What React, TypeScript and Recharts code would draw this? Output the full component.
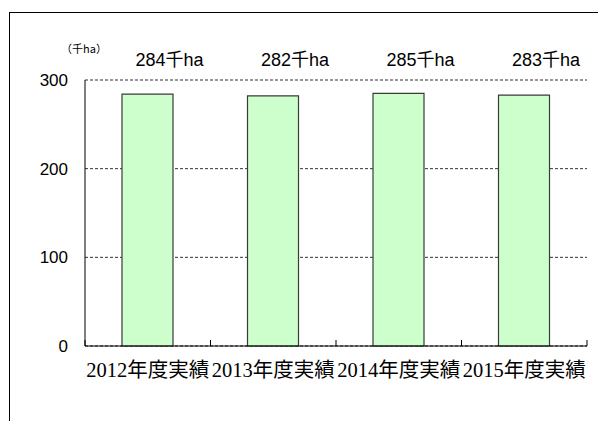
import { BarChart, Bar, XAxis, YAxis, CartesianGrid, LabelList, Label } from 'recharts';

const years = ['2012年度実績', '2013年度実績', '2014年度実績', '2015年度実績'];
const areaValues = [284, 282, 285, 283];
const valueLabels = ['284千ha', '282千ha', '285千ha', '283千ha'];
const yTicks = [0, 100, 200, 300];

const data = years.map((name, i) => ({ name, value: areaValues[i], label: valueLabels[i] }));

const CHART_W = 598;
const CHART_H = 421;
const MARGIN = { top: 80, right: 11, bottom: 45, left: 0 };
const Y_AXIS_W = 85;
const PLOT_W = CHART_W - MARGIN.left - MARGIN.right - Y_AXIS_W;
const TICK_SIZE = 6;
const TICK_MARGIN = 11;

function CategoryTick(props: any) {
  const { x, y, payload, index } = props;
  const band = PLOT_W / years.length;
  const axisY = y - TICK_SIZE - TICK_MARGIN;
  const right = x + band / 2;
  return (
    <g>
      <line x1={right} x2={right} y1={axisY} y2={axisY - 6} stroke="#000" />
      {index === 0 && <line x1={right - band} x2={right - band} y1={axisY} y2={axisY - 6} stroke="#000" />}
      <text
        x={x}
        y={y + 14}
        textAnchor="middle"
        fontSize={20.5}
        fontFamily="'Liberation Serif', 'Noto Sans CJK JP', serif"
        fill="#000"
      >
        {payload.value}
      </text>
    </g>
  );
}

function ValueLabel(props: any) {
  const { x, width, value } = props;
  // labels sit on one line above the plot, nudged right of the bar centre
  return (
    <text
      x={x + width / 2 + 22}
      y={MARGIN.top - 14}
      textAnchor="middle"
      fontSize={18}
      fontFamily="'Liberation Sans', 'Noto Sans CJK JP', sans-serif"
      fill="#000"
    >
      {value}
    </text>
  );
}

export default function App() {
  return (
    <div style={{ position: 'absolute', left: 0, top: 0, width: CHART_W, height: CHART_H, background: '#fff' }}>
      <div
        style={{
          position: 'absolute',
          left: 9,
          top: 12,
          width: 600,
          height: 420,
          borderLeft: '1.5px solid #000',
          borderTop: '1.5px solid #000',
        }}
      />
      <div style={{ position: 'absolute', left: 0, top: 0 }}>
        <BarChart width={CHART_W} height={CHART_H} data={data} margin={MARGIN}>
          <CartesianGrid horizontal vertical={false} stroke="#333" strokeDasharray="3 2" />
          <XAxis
            dataKey="name"
            height={30}
            axisLine={{ stroke: '#000' }}
            tickLine={false}
            tickSize={TICK_SIZE}
            tickMargin={TICK_MARGIN}
            tick={<CategoryTick />}
            interval={0}
          />
          <YAxis
            width={Y_AXIS_W}
            domain={[0, 300]}
            ticks={yTicks}
            axisLine={{ stroke: '#000' }}
            tickLine={false}
            tickSize={5}
            tickMargin={12}
            tick={{ fontSize: 17, fill: '#000', fontFamily: "'Liberation Sans', sans-serif" }}
          >
            <Label
              content={() => (
                <text
                  x={84}
                  y={53}
                  textAnchor="middle"
                  fontSize={11}
                  fontFamily="'Noto Sans CJK JP', sans-serif"
                  fill="#000"
                >
                  （千ha）
                </text>
              )}
            />
          </YAxis>
          <Bar dataKey="value" fill="#CCFFCC" stroke="#3a3a3a" strokeWidth={1.2} barSize={51} isAnimationActive={false}>
            <LabelList dataKey="label" content={<ValueLabel />} />
          </Bar>
        </BarChart>
      </div>
    </div>
  );
}
